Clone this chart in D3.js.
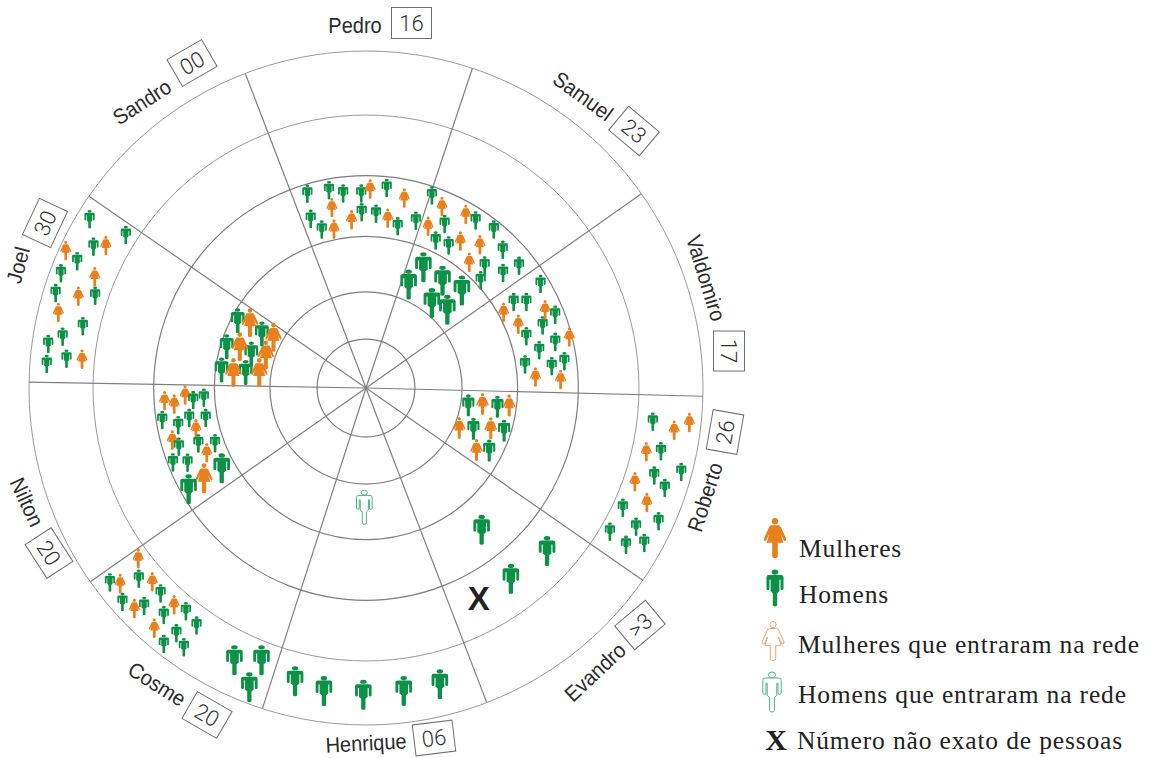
<!DOCTYPE html>
<html>
<head>
<meta charset="utf-8">
<title>Rede de pessoas</title>
<script src="https://cdn.jsdelivr.net/npm/d3@7"></script>
<style>
body{margin:0;background:#fff;}
svg{display:block;}
</style>
</head>
<body>
<div id="chart"></div>
<script>
// sectors clockwise from the top
var names=["Pedro","Samuel","Valdomiro","Roberto","Evandro","Henrique","Cosme","Nilton","Joel","Sandro"];
var counts=["16","23","17","26",">3","06","20","20","30","00"];

// circle levels and sector limits (distance in % of the outer circle, bearing in degrees)
var ringLevels=[14.5,28.5,45,63,81,100];
var spokeBearings=[339,18.4,54.8,91.4,124.8,159,197.9,234.9,271,304.7];

// people: [bearing, distance]
var pedroHomens=[[-16.8,60.2],[-10.6,59.7],[-6.7,58.1],[-1.4,57.7],[5.9,59.7],[-18.1,52.8],[-15.6,48.8],[-1.4,52.2],[3.3,51.8],[11.1,48.9],[16.6,51.8]];
var pedroMulheres=[[1.2,59.1],[11.4,57.5],[-10.7,54.5],[-11.4,48.1],[-4.9,50.1],[7.3,50.8]];

var samuelHomens=[[18.9,60.4],[25.6,54],[25.3,48.4],[30.1,48.9],[33.2,59.4],[38.9,60.4],[44.7,57.7],[51.4,58.1],[50,53.1],[44.1,50.6],[46.8,46.7]];
var samuelMulheres=[[22.7,58.4],[29.9,59.4],[21,51.4],[32.7,51.8],[38.5,54.3],[39.4,48.3]];
var samuelProximos=[[25.4,39.7],[22.4,33.2],[35.5,39.1],[44.5,40.6],[37.8,31.9],[46.1,33.5]];

var valdomiroHomens=[[59.2,60.3],[59.8,50.7],[61.8,54],[68.8,60.2],[70.5,55.6],[72.1,50],[76.3,57.8],[77.7,52.6],[82.3,59.4],[83.3,55.5],[81.6,47.7]];
var valdomiroMulheres=[[61.2,46.6],[66.4,58],[67.3,49],[75.9,62.2],[86.3,50.4],[87.5,57.8]];

var robertoHomensPerto=[[99.6,30.8],[98.1,39.4],[107.2,42.9],[110.8,34.1],[116.9,41]];
var robertoMulheresPerto=[[97.8,34.9],[97,42.8],[113.2,30.1],[107.9,38.9],[119.3,37.6]];
var robertoHomens=[[96.7,85.7],[102.1,89.5],[104.9,96.8],[106.9,89.4],[108.5,93.5],[115,84.1],[114.5,95.4],[117.2,90.1],[119.1,94.5],[121.1,90.1],[120.5,84]];
var robertoMulheres=[[96.1,96.5],[97.8,92.3],[102.8,85.3],[109.2,84.5],[112.2,90]];

var evandroHomens=[[140.8,54.3],[132,72.3],[142.8,71.1]];
var evandroInexato=[[151.8,70.8]];

var henriqueHomens=[[193.6,89.5],[187.9,90.8],[180.5,91],[172.9,90.6],[166,90.6]];
var henriqueEntrou=[[180.8,35.4]];

var cosmeGrandes=[[205.8,89.7],[201,86.5],[201.3,95.3]];
var cosmeHomens=[[232.8,95.4],[228.7,96.2],[230,88],[225.5,92.3],[225,86.2],[221.7,90.2],[218.9,85.1],[215.5,86.6],[217.7,92],[218.3,96.8],[215.1,94]];
var cosmeMulheres=[[233.2,84.4],[231.5,93.2],[226.4,94.9],[227.8,85.6],[221.5,85.9],[221.4,95]];

var niltonHomens=[[261.1,61.2],[266,51.4],[266.6,48.2],[258.8,56.8],[260.4,53.2],[259.4,48.4],[252.6,58.2],[251.7,52.4],[249.9,47.7],[248.9,61.4],[247.3,57.4]];
var niltonMulheres=[[266.4,59.9],[265.2,57.1],[267.8,53.7],[256.5,51.9],[255,59.5],[247.9,51]];
var niltonGrandes=[[240.3,60.6],[240.9,49]];
var niltonGrandeM=[[240.9,55]];

var joelHomens=[[301.4,96.1],[302.5,84.5],[297.4,91.1],[293.7,93.6],[290.6,96.7],[287,96.3],[288.8,84.9],[282.3,86],[279.6,91.3],[277.9,95.2],[274.3,95],[275.6,89.3]];
var joelMulheres=[[294.6,98],[298.7,88],[292.3,87],[287.7,89.6],[283.8,94],[275.8,84.7]];
var joelHomensPerto=[[297.7,43],[297.4,34.8],[286.5,43.1],[286.5,35.5],[277.1,43.2],[277.3,36]];
var joelMulheresPerto=[[299.4,39.5],[298.7,31.3],[288.1,39.4],[288.3,31.3],[276.7,39.6],[278.2,32]];

var legendLabels=["Mulheres","Homens","Mulheres que entraram na rede","Homens que entraram na rede","Número não exato de pessoas"];

function init(){
    var w=1151;
    var h=758;
    var cx=366;
    var cy=388;

    var svg=d3.select("#chart")
            .append("svg")
            .attr("width",w)
            .attr("height",h);

    var rScale=d3.scaleLinear().domain([0,100]).range([0,337]);
    var aScale=d3.scaleLinear().domain([0,360]).range([0,2*Math.PI]);

    function polar(bearing,dist){
        var p=d3.pointRadial(aScale(bearing),rScale(dist));
        return [cx+p[0],cy+p[1]];
    }

    // circles
    svg.append("g").selectAll("circle")
        .data(ringLevels)
        .enter().append("circle")
        .attr("cx",cx)
        .attr("cy",cy)
        .attr("r",function(d){return rScale(d);})
        .style("fill","none")
        .style("stroke",function(d){return d>70?"#9a9a9a":"#7d7d7d";})
        .style("stroke-width",function(d){return d>70?1:1.2;});

    // spokes
    svg.append("g").selectAll("line")
        .data(spokeBearings)
        .enter().append("line")
        .attr("x1",cx)
        .attr("y1",cy)
        .attr("x2",function(d){return polar(d,100)[0];})
        .attr("y2",function(d){return polar(d,100)[1];})
        .style("stroke","#808080")
        .style("stroke-width",1.2);

    var manPath="M9,7A9,7 0 1 1 -9,7A9,7 0 1 1 9,7Z"
        +"M-17,15H17Q23,15 23,21V52Q23,56 19,56Q15,56 15,52V28H12V58L6,64V96Q6,100 0,100Q-6,100 -6,96V64L-12,58V28H-15V52Q-15,56 -19,56Q-23,56 -23,52V21Q-23,15 -17,15Z";
    var womanPath="M8,8A8,8 0 1 1 -8,8A8,8 0 1 1 8,8Z"
        +"M-9,18H9Q13,18 15,23L28,52Q29,57 25,58Q22,58 21,54L14,40L21,62H7V95Q7,100 0,100Q-7,100 -7,95V62H-21L-14,40L-21,54Q-22,58 -25,58Q-29,57 -28,52L-15,23Q-13,18 -9,18Z";

    var green="#0d9147";
    var orange="#e8801e";

    // person drawn at x,y (centre), height size, wide = stretch across
    function person(g,x,y,path,size,fill,stroke,wide){
        var s=size/100;
        g.append("path")
            .attr("d",path)
            .attr("transform","translate("+x+","+(y-size/2)+") scale("+(s*wide)+","+s+")")
            .attr("vector-effect","non-scaling-stroke")
            .style("fill",fill)
            .style("stroke",stroke)
            .style("stroke-width",1);
    }

    function drawGroup(people,path,size,fill,stroke){
        var g=svg.append("g");
        var wide=(path==manPath && fill==green)?1.2:1;
        people.forEach(function(d){
            var p=polar(d[0],d[1]);
            person(g,p[0],p[1],path,size,fill,stroke,wide);
        });
    }

    var small=18.5;
    var mid=22;
    var large=30;

    drawGroup(pedroHomens,manPath,small,green,"none");
    drawGroup(pedroMulheres,womanPath,small+1,orange,"none");
    drawGroup(samuelHomens,manPath,small,green,"none");
    drawGroup(samuelMulheres,womanPath,small+1,orange,"none");
    drawGroup(samuelProximos,manPath,large,green,"none");
    drawGroup(valdomiroHomens,manPath,small,green,"none");
    drawGroup(valdomiroMulheres,womanPath,small+1,orange,"none");
    drawGroup(robertoHomensPerto,manPath,mid,green,"none");
    drawGroup(robertoMulheresPerto,womanPath,mid,orange,"none");
    drawGroup(robertoHomens,manPath,small,green,"none");
    drawGroup(robertoMulheres,womanPath,small+1,orange,"none");
    drawGroup(evandroHomens,manPath,large,green,"none");
    drawGroup(henriqueHomens,manPath,large,green,"none");
    drawGroup(henriqueEntrou,manPath,34,"none","#4fb285");
    drawGroup(cosmeGrandes,manPath,large,green,"none");
    drawGroup(cosmeHomens,manPath,small,green,"none");
    drawGroup(cosmeMulheres,womanPath,small+1,orange,"none");
    drawGroup(niltonMulheres,womanPath,small+1,orange,"none");
    drawGroup(niltonHomens,manPath,small,green,"none");
    drawGroup(niltonGrandes,manPath,large,green,"none");
    drawGroup(niltonGrandeM,womanPath,large,orange,"none");
    drawGroup(joelHomens,manPath,small,green,"none");
    drawGroup(joelMulheres,womanPath,small+1,orange,"none");
    drawGroup(joelHomensPerto,manPath,25,green,"none");
    drawGroup(joelMulheresPerto,womanPath,29,orange,"none");

    // the X on Evandro
    svg.append("g").selectAll("text")
        .data(evandroInexato)
        .enter().append("text")
        .attr("x",function(d){return polar(d[0],d[1])[0];})
        .attr("y",function(d){return polar(d[0],d[1])[1]+12;})
        .attr("text-anchor","middle")
        .style("font","bold 33px 'Liberation Sans'")
        .style("fill","#222")
        .text("X");

    // name label and boxed count for every sector: text x,y,rot then box x,y,rot
    var labelLayout=[
        [355,25,0,411.5,23,0],
        [583,96,36,634,131,40],
        [706,278,73,729,351,90],
        [705,497,-72,725,432,-80],
        [595,672,-43,640,625,-40],
        [366,743,-3,434,738,-7],
        [157,684,32,207,715,30],
        [27,502,65,49,553,57],
        [18,265,-75,45,223,-65],
        [142,102,-33,192,63,-30]
    ];

    names.forEach(function(name,i){
        var l=labelLayout[i];
        svg.append("text")
            .attr("transform","translate("+l[0]+","+l[1]+") rotate("+l[2]+") scale(.93,1)")
            .attr("text-anchor","middle")
            .attr("dy","0.35em")
            .style("font","21.5px 'Liberation Sans'")
            .style("fill","#2b2b2b")
            .text(name);
        var box=svg.append("g")
            .attr("transform","translate("+l[3]+","+l[4]+") rotate("+l[5]+")");
        box.append("rect")
            .attr("x",-20)
            .attr("y",-15.5)
            .attr("width",40)
            .attr("height",31)
            .style("fill","#fff")
            .style("stroke","#6e6e6e")
            .style("stroke-width",1);
        box.append("text")
            .attr("text-anchor","middle")
            .attr("dy","0.36em")
            .style("font","300 22px Roboto")
            .style("fill","#333")
            .text(counts[i]);
    });

    // legend
    var legendBase=[557,603,653,703,749];
    var legendX=[799,799,798,798,797];
    svg.append("g").selectAll("text")
        .data(legendLabels)
        .enter().append("text")
        .attr("x",function(d,i){return legendX[i];})
        .attr("y",function(d,i){return legendBase[i];})
        .style("font","25.5px 'Liberation Serif'")
        .style("letter-spacing","0.85px")
        .style("fill","#222")
        .text(function(d){return d;});

    var lg=svg.append("g");
    person(lg,775,538,womanPath,40,orange,"none",1);
    person(lg,775,588,manPath,37,green,"none",1);
    person(lg,773,641,womanPath,39,"#fff","#eda56a",1);
    person(lg,772,692,manPath,40,"#fff","#4fb285",1);

    svg.append("text")
        .attr("x",776)
        .attr("y",750)
        .attr("text-anchor","middle")
        .style("font","bold 30px 'Liberation Serif'")
        .style("fill","#222")
        .text("X");
}

init();
</script>
</body>
</html>
